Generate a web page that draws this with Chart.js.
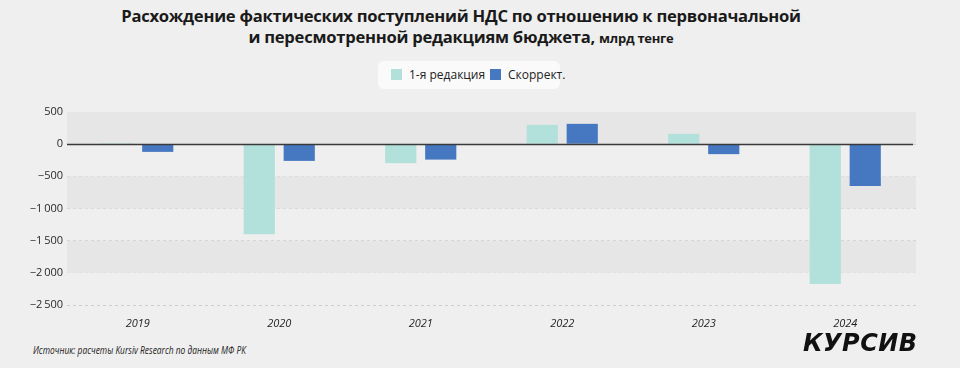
<!DOCTYPE html>
<html>
<head>
<meta charset="utf-8">
<script src="https://cdn.jsdelivr.net/npm/chart.js@4"></script>
<style>
  html, body { margin: 0; padding: 0; }
  body { width: 960px; height: 368px; background: #efefef; position: relative; overflow: hidden; font-family: "Open Sans", "Noto Sans", sans-serif; }
  .title { position: absolute; top: 5px; left: 0; width: 922px; text-align: center; font-weight: 700; font-size: 16.6px; line-height: 21px; color: #1a1a1a; letter-spacing: -0.25px; }
  .title small { font-size: 13px; }
  .legend { position: absolute; left: 378px; top: 61px; width: 182px; height: 28px; background: #fafafa; border-radius: 6px; font-size: 12px; color: #222; }
  .legend span { position: absolute; top: 7px; line-height: 14px; white-space: nowrap; }
  .legend i { display: inline-block; width: 11px; height: 11px; vertical-align: -1px; margin-right: 7px; }
  .wrap { position: absolute; left: 0; top: 100px; width: 960px; height: 230px; }
  .source { position: absolute; left: 33px; top: 343px; font-size: 10.5px; font-style: italic; color: #222; transform: scaleX(0.8); transform-origin: left; white-space: nowrap; }
  .logo { position: absolute; left: 803px; top: 328px; font-family: "DejaVu Sans", sans-serif; font-weight: 900; font-style: italic; font-size: 25px; color: #111; transform: scaleX(0.96); transform-origin: left; letter-spacing: 0.5px; white-space: nowrap; }
</style>
</head>
<body>
<div class="title">Расхождение фактических поступлений НДС по отношению к первоначальной<br>и пересмотренной редакциям бюджета, <small>млрд тенге</small></div>
<div class="legend">
  <span style="left:13px"><i style="background:#b2e0da"></i>1-я редакция</span>
  <span style="left:112px"><i style="background:#4677c1"></i>Скоррект.</span>
</div>
<div class="wrap"><canvas id="chart"></canvas></div>
<div class="source">Источник: расчеты Kursiv Research по данным МФ РК</div>
<div class="logo">КУРСИВ</div>
<script>
const years = ['2019', '2020', '2021', '2022', '2023', '2024'];
const firstEdition = [15, -1400, -295, 300, 160, -2175];
const corrected = [-120, -260, -240, 316, -155, -650];
const yMin = -2500;
const yMax = 500;
const yStep = 500;

// alternating shaded bands + solid zero line
const bandsPlugin = {
    id: 'bands',
    beforeDatasetsDraw(chart) {
        const { ctx, chartArea, scales } = chart;
        const y = scales.y;
        ctx.save();
        ctx.fillStyle = '#e6e6e6';
        for (let v = yMax; v > yMin; v -= 2 * yStep) {
            const top = y.getPixelForValue(v);
            const bottom = y.getPixelForValue(v - yStep);
            ctx.fillRect(chartArea.left, top, chartArea.right - chartArea.left, bottom - top);
        }
        ctx.restore();
    },
    afterDatasetsDraw(chart) {
        const { ctx, chartArea, scales } = chart;
        const y0 = Math.round(scales.y.getPixelForValue(0)) + 0.5;
        ctx.save();
        ctx.strokeStyle = '#3a3a3a';
        ctx.lineWidth = 1.3;
        ctx.beginPath();
        ctx.moveTo(chartArea.left, y0);
        ctx.lineTo(chartArea.right - 3, y0);
        ctx.stroke();
        ctx.restore();
    }
};

function fmt(v) {
    const s = Math.abs(v).toString().replace(/\B(?=(\d{3})+(?!\d))/g, '\u2009');
    return (v < 0 ? '\u2212' : '') + s;
}

new Chart(document.getElementById('chart').getContext('2d'), {
    type: 'bar',
    data: {
        labels: years,
        datasets: [
            { label: '1-я редакция', data: firstEdition, backgroundColor: '#b2e0da' },
            { label: 'Скоррект.', data: corrected, backgroundColor: '#4677c1' }
        ]
    },
    options: {
        responsive: true,
        maintainAspectRatio: false,
        animation: false,
        categoryPercentage: 0.565,
        barPercentage: 0.78,
        layout: { padding: { top: 12, right: 44, left: 0, bottom: 0 } },
        plugins: {
            legend: { display: false },
            tooltip: { enabled: false }
        },
        scales: {
            x: {
                grid: { display: false },
                border: { display: false },
                ticks: {
                    color: '#1e1e1e',
                    font: { family: 'Open Sans', size: 11, style: 'italic' },
                    padding: 4
                },
                afterFit(s) { s.height = 25; }
            },
            y: {
                min: yMin,
                max: yMax,
                ticks: {
                    stepSize: yStep,
                    color: '#2a2a2a',
                    font: { family: 'Open Sans', size: 11 },
                    padding: 4,
                    callback: (v) => fmt(v)
                },
                grid: {
                    color: '#cdcdcd',
                    lineWidth: 1,
                    drawTicks: false
                },
                border: { display: false, dash: [3, 3] },
                afterFit(s) { s.width = 67; }
            }
        }
    },
    plugins: [bandsPlugin]
});
</script>
</body>
</html>
